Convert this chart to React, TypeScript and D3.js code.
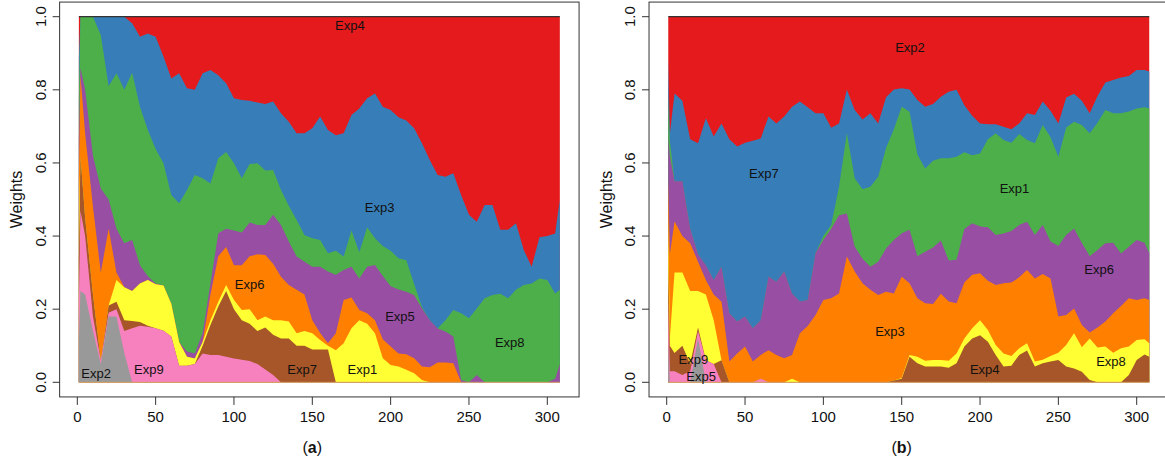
import React from 'react';
import * as d3 from 'd3';

// time points (x axis, "Time")
const time = [1, 2, 5, 10, 15, 20, 25, 30, 35, 40, 45, 50, 55, 60, 65, 70, 75, 80, 85, 90, 95, 100, 105, 110, 115, 120, 125, 130, 135, 140, 145, 150, 155, 160, 165, 170, 175, 180, 185, 190, 195, 200, 205, 210, 215, 220, 225, 230, 235, 240, 245, 250, 255, 260, 265, 270, 275, 280, 285, 290, 295, 300, 305, 308];

const xTicks = [0, 50, 100, 150, 200, 250, 300];
const yTicks = [0, 0.2, 0.4, 0.6, 0.8, 1.0];

// stack order bottom -> top uses Set1 reversed
const layerColors = ['#999999', '#F781BF', '#A65628', '#FFFF33', '#FF7F00', '#984EA3', '#4DAF4A', '#377EB8', '#E41A1C'];

// ---------- panel (a) ----------
const keysA = ['Exp2', 'Exp9', 'Exp7', 'Exp1', 'Exp6', 'Exp5', 'Exp8', 'Exp3', 'Exp4'];
const exp2A = [.111, .25, .24, .14, .05, .18, .18, .08, 0, 0, 0, 0, 0, 0, 0, 0, 0, 0, 0, 0, 0, 0, 0, 0, 0, 0, 0, 0, 0, 0, 0, 0, 0, 0, 0, 0, 0, 0, 0, 0, 0, 0, 0, 0, 0, 0, 0, 0, 0, 0, 0, 0, 0, 0, 0, 0, 0, 0, 0, 0, 0, 0, 0, 0];
const exp9A = [.111, .22, .16, .04, .01, .01, .02, .06, .148, .155, .152, .148, .141, .125, .045, .045, .05, .079, .075, .075, .07, .065, .062, .058, .05, .035, .02, 0, 0, 0, 0, 0, 0, 0, 0, 0, 0, 0, 0, 0, 0, 0, 0, 0, 0, 0, 0, 0, 0, 0, 0, 0, 0, 0, 0, 0, 0, 0, 0, 0, 0, 0, 0, 0];
const exp7A = [.111, .15, .05, .06, 0, .02, .02, .03, .02, .01, .003, 0, 0, 0, 0, 0, 0, .021, .082, .132, .18, .135, .108, .102, .09, .115, .11, .12, .12, .10, .10, .09, .09, .09, 0, 0, 0, 0, 0, 0, 0, 0, 0, 0, 0, 0, 0, 0, 0, 0, 0, 0, 0, 0, 0, 0, 0, 0, 0, 0, 0, 0, 0, 0];
const exp1A = [.111, 0, 0, 0, 0, 0, .06, .09, .082, .105, .125, .12, .124, .09, .065, .025, .015, .01, .013, .013, .016, .025, .028, .04, .03, .03, .04, .05, .046, .034, .04, .044, .026, .01, .088, .107, .148, .17, .16, .134, .066, .047, .043, .034, .025, .006, 0, 0, 0, 0, 0, 0, 0, 0, 0, 0, 0, 0, 0, 0, 0, 0, 0, 0];
const exp6A = [.111, .22, .23, .24, .24, .21, .02, 0, 0, 0, 0, 0, 0, 0, 0, 0, 0, 0, .07, .125, .104, .095, .122, .145, .18, .168, .154, .119, .10, .119, .10, .036, .019, .007, .046, .118, .084, .028, .029, .036, .052, .051, .036, .043, .041, .037, .041, .054, .054, .052, 0, 0, 0, 0, 0, 0, 0, 0, 0, 0, 0, 0, 0, 0];
const exp5A = [.111, .02, .12, .14, .23, .08, .12, .12, .139, .05, .01, .002, 0, 0, 0, .014, .014, .024, .03, .063, .05, .095, .09, .092, .08, .082, .134, .141, .119, .091, .09, .146, .181, .196, .16, .082, .084, .086, .127, .151, .173, .165, .175, .171, .173, .159, .129, .093, .085, .073, .006, 0, .02, 0, 0, 0, 0, 0, 0, 0, 0, 0, .01, .05];
const exp8A = [.111, .14, .20, .38, .42, .31, .425, .42, .458, .434, .40, .368, .334, .297, .38, .442, .488, .424, .274, .205, .21, .184, .148, .16, .169, .149, .123, .096, .098, .10, .073, .078, .073, .05, .066, .037, .099, .072, .108, .073, .082, .097, .085, .086, .03, .003, 0, 0, .031, .073, .183, .175, .182, .23, .239, .242, .23, .253, .266, .27, .284, .28, .233, .203];
const exp3A = [.111, 0, 0, 0, .05, .19, .155, .20, .135, .191, .264, .307, .292, .319, .355, .278, .233, .287, .31, .227, .188, .178, .214, .173, .166, .182, .187, .21, .23, .237, .278, .301, .338, .337, .316, .337, .316, .393, .353, .396, .381, .385, .386, .382, .426, .449, .438, .42, .392, .374, .323, .283, .237, .255, .246, .175, .187, .182, .096, .046, .113, .12, .164, .246];
const exp4A = [.112, 0, 0, 0, 0, 0, 0, 0, .018, .055, .046, .055, .109, .169, .155, .196, .20, .155, .146, .16, .182, .223, .228, .23, .235, .239, .232, .264, .287, .319, .319, .305, .273, .31, .324, .319, .269, .251, .223, .21, .246, .255, .275, .284, .305, .346, .392, .433, .438, .428, .488, .542, .561, .515, .515, .583, .583, .565, .638, .684, .603, .60, .593, .501];

// ---------- panel (b) ----------
const keysB = ['Exp5', 'Exp9', 'Exp4', 'Exp8', 'Exp3', 'Exp6', 'Exp1', 'Exp7', 'Exp2'];
const exp5B = [.111, 0, 0, 0, 0, .12, 0, 0, 0, 0, 0, 0, 0, 0, 0, 0, 0, 0, 0, 0, 0, 0, 0, 0, 0, 0, 0, 0, 0, 0, 0, 0, 0, 0, 0, 0, 0, 0, 0, 0, 0, 0, 0, 0, 0, 0, 0, 0, 0, 0, 0, 0, 0, 0, 0, 0, 0, 0, 0, 0, 0, 0, 0, 0];
const exp9B = [.111, .03, .03, .02, .03, .02, .06, .05, 0, 0, 0, 0, 0, .01, 0, 0, 0, 0, 0, 0, 0, 0, 0, 0, 0, 0, 0, 0, 0, 0, 0, 0, 0, 0, 0, 0, 0, 0, 0, 0, 0, 0, 0, 0, 0, 0, 0, 0, 0, 0, 0, 0, 0, 0, 0, 0, 0, 0, 0, 0, 0, 0, 0, 0];
const exp4B = [.111, .07, .05, .08, .02, .01, 0, 0, .06, 0, 0, 0, 0, 0, 0, 0, 0, 0, 0, 0, 0, 0, 0, 0, 0, 0, 0, 0, 0, 0, .005, .01, .07, .052, .043, .043, .043, .04, .052, .098, .12, .129, .111, .075, .043, .045, .075, .087, .043, .052, .057, .061, .043, .038, .029, .006, 0, 0, 0, 0, .02, .061, .076, .07];
const exp8B = [.111, .02, .22, .20, .20, .10, .18, .12, 0, 0, 0, 0, 0, 0, 0, 0, 0, .01, 0, 0, 0, 0, 0, 0, 0, 0, 0, 0, 0, 0, 0, .002, .005, .018, .016, .018, .018, .019, .027, .022, .028, .041, .032, .027, .036, .027, .018, .02, .014, .01, .015, .02, .059, .096, .067, .114, .095, .098, .081, .093, .078, .055, .042, .037];
const exp3B = [.111, .23, .14, .10, .13, .08, .04, .07, .16, .057, .079, .098, .057, .065, .088, .075, .066, .065, .134, .154, .184, .225, .23, .243, .344, .303, .271, .253, .239, .248, .238, .277, .196, .16, .157, .153, .181, .162, .137, .153, .146, .128, .135, .164, .192, .201, .194, .20, .227, .234, .212, .099, .082, .068, .061, .016, .055, .068, .108, .116, .132, .109, .112, .118];
const exp6B = [.111, .27, .11, .15, .04, .02, .04, .04, .096, .132, .087, .082, .091, .095, .201, .20, .237, .168, .087, .071, .169, .164, .19, .214, .118, .068, .067, .063, .091, .118, .146, .119, .146, .115, .141, .155, .146, .112, .119, .146, .141, .128, .146, .137, .136, .141, .143, .132, .119, .134, .101, .193, .219, .219, .224, .209, .212, .214, .193, .143, .141, .164, .152, .128];
const exp1B = [.111, .04, 0, 0, 0, 0, 0, 0, 0, 0, 0, 0, 0, 0, 0, 0, 0, 0, 0, 0, 0, .011, .01, .078, .219, .187, .19, .219, .232, .275, .303, .346, .323, .278, .228, .237, .225, .28, .282, .21, .186, .20, .241, .278, .256, .241, .249, .224, .251, .274, .285, .244, .294, .292, .323, .336, .348, .365, .354, .384, .37, .36, .37, .396];
const exp7B = [.111, .02, .24, .22, .245, .304, .402, .392, .392, .476, .479, .475, .513, .497, .438, .433, .424, .511, .547, .527, .383, .336, .266, .173, .119, .187, .191, .201, .146, .139, .109, .05, .061, .149, .169, .155, .168, .182, .183, .129, .108, .082, .041, .025, .036, .037, .029, .073, .077, .064, .073, .091, .082, .076, .066, .055, .073, .075, .091, .098, .097, .105, .102, .101];
const exp2B = [.112, .32, .21, .23, .335, .346, .278, .328, .292, .335, .355, .345, .339, .333, .273, .292, .273, .246, .232, .248, .264, .264, .304, .292, .20, .255, .281, .264, .292, .22, .199, .196, .199, .228, .246, .239, .219, .205, .20, .242, .271, .292, .294, .294, .301, .308, .292, .264, .269, .232, .257, .292, .221, .211, .23, .264, .217, .18, .173, .166, .162, .146, .146, .15];

// label anchor points (time, weight)
const labelNamesA = ['Exp4', 'Exp3', 'Exp5', 'Exp8', 'Exp1', 'Exp7', 'Exp6', 'Exp9', 'Exp2'];
const labelTimeA = [174, 193, 206, 276, 182, 143.5, 110, 45.7, 12];
const labelWeightA = [0.975, 0.479, 0.179, 0.11, 0.036, 0.036, 0.268, 0.036, 0.025];

const labelNamesB = ['Exp2', 'Exp7', 'Exp1', 'Exp6', 'Exp3', 'Exp4', 'Exp8', 'Exp9', 'Exp5'];
const labelTimeB = [155.3, 62, 222, 276, 142.5, 203, 283.6, 17, 22];
const labelWeightB = [0.916, 0.572, 0.531, 0.309, 0.138, 0.036, 0.058, 0.062, 0.017];

const FONT = '"Liberation Sans", Arial, Helvetica, sans-serif';

type PanelProps = {
  originX: number;
  keys: string[];
  values: number[][];
  labelNames: string[];
  labelTime: number[];
  labelWeight: number[];
  tag: string;
};

function Panel({ originX, keys, values, labelNames, labelTime, labelWeight, tag }: PanelProps) {
  const x = d3.scaleLinear().domain([0, 300]).range([originX, originX + 470]);
  const y = d3.scaleLinear().domain([0, 1]).range([382.3, 16.7]);

  const rows = time.map((t, i) => {
    const r: any = { t };
    keys.forEach((k, j) => {
      r[k] = values[j][i];
    });
    return r;
  });
  const stacked = d3.stack<any>().keys(keys)(rows);
  const area = d3
    .area<any>()
    .x((d: any) => x(d.data.t))
    .y0(y(0))
    .y1((d: any) => y(d[1]));

  const t0 = time[0];
  const t1 = time[time.length - 1];
  const span = t1 - t0;
  const fx0 = x(t0 - 0.04 * span);
  const fx1 = x(t1 + 0.04 * span);
  const fy0 = y(1.04);
  const fy1 = y(-0.04);

  const order = stacked.map((s, i) => i).reverse();

  return (
    <g>
      {order.map((i) => (
        <path key={keys[i]} d={area(stacked[i] as any) || ''} fill={layerColors[i]} stroke="none" />
      ))}
      <line x1={x(t0)} x2={x(t1)} y1={y(0)} y2={y(0)} stroke="#d8a06a" strokeWidth={1} />
      <line x1={x(t0)} x2={x(t1)} y1={y(1)} y2={y(1)} stroke="#333" strokeWidth={1.3} />
      {labelNames.map((n, i) => (
        <text
          key={n}
          x={x(labelTime[i])}
          y={y(labelWeight[i])}
          dy="0.35em"
          textAnchor="middle"
          fontSize={13}
          fontFamily={FONT}
          fill="#111"
        >
          {n}
        </text>
      ))}
      <rect x={fx0} y={fy0} width={fx1 - fx0} height={fy1 - fy0} fill="none" stroke="#333" strokeWidth={1} />
      {yTicks.map((v) => (
        <g key={'y' + v}>
          <line x1={fx0} x2={fx0 - 7} y1={y(v)} y2={y(v)} stroke="#333" strokeWidth={1} />
          <text
            transform={`translate(${fx0 - 19},${y(v)}) rotate(-90)`}
            dy="0.35em"
            textAnchor="middle"
            fontSize={15}
            fontFamily={FONT}
            fill="#111"
          >
            {v.toFixed(1)}
          </text>
        </g>
      ))}
      {xTicks.map((v) => (
        <g key={'x' + v}>
          <line x1={x(v)} x2={x(v)} y1={fy1} y2={fy1 + 8} stroke="#333" strokeWidth={1} />
          <text x={x(v)} y={fy1 + 20} dy="0.35em" textAnchor="middle" fontSize={15} fontFamily={FONT} fill="#111">
            {v}
          </text>
        </g>
      ))}
      <text
        transform={`translate(${fx0 - 43},${(y(0) + y(1)) / 2}) rotate(-90)`}
        dy="0.35em"
        textAnchor="middle"
        fontSize={16}
        fontFamily={FONT}
        fill="#111"
      >
        Weights
      </text>
      <text x={x(150)} y={447} dy="0.35em" textAnchor="middle" fontSize={16} fontFamily={FONT} fill="#111">
        <tspan>(</tspan>
        <tspan fontWeight="bold">{tag}</tspan>
        <tspan>)</tspan>
      </text>
    </g>
  );
}

export default function App() {
  return (
    <svg
      width={1165}
      height={462}
      viewBox="0 0 1165 462"
      style={{ position: 'absolute', left: 0, top: 0, background: '#fff', display: 'block' }}
    >
      <rect x={0} y={0} width={1165} height={462} fill="#fff" />
      <Panel
        originX={77.3}
        keys={keysA}
        values={[exp2A, exp9A, exp7A, exp1A, exp6A, exp5A, exp8A, exp3A, exp4A]}
        labelNames={labelNamesA}
        labelTime={labelTimeA}
        labelWeight={labelWeightA}
        tag="a"
      />
      <Panel
        originX={666.7}
        keys={keysB}
        values={[exp5B, exp9B, exp4B, exp8B, exp3B, exp6B, exp1B, exp7B, exp2B]}
        labelNames={labelNamesB}
        labelTime={labelTimeB}
        labelWeight={labelWeightB}
        tag="b"
      />
    </svg>
  );
}
